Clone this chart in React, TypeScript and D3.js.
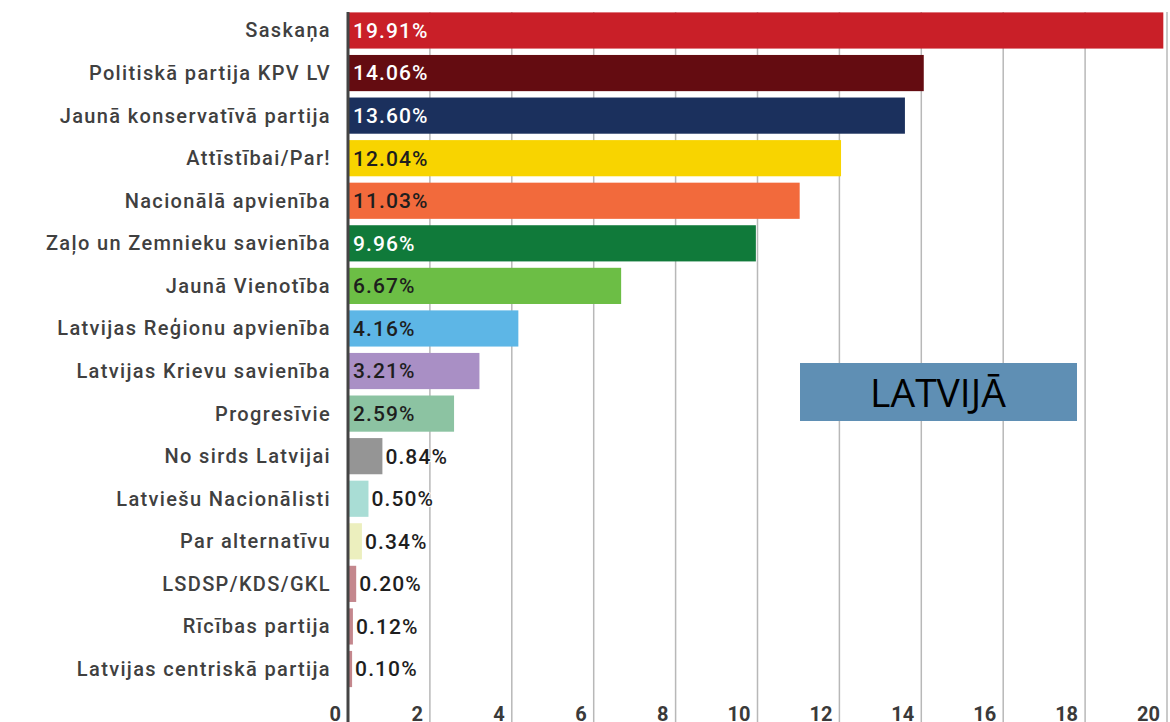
import React from "react";
import * as d3 from "d3";

const parties = [
  "Saskaņa",
  "Politiskā partija KPV LV",
  "Jaunā konservatīvā partija",
  "Attīstībai/Par!",
  "Nacionālā apvienība",
  "Zaļo un Zemnieku savienība",
  "Jaunā Vienotība",
  "Latvijas Reģionu apvienība",
  "Latvijas Krievu savienība",
  "Progresīvie",
  "No sirds Latvijai",
  "Latviešu Nacionālisti",
  "Par alternatīvu",
  "LSDSP/KDS/GKL",
  "Rīcības partija",
  "Latvijas centriskā partija",
];
const shares = [19.91, 14.06, 13.6, 12.04, 11.03, 9.96, 6.67, 4.16, 3.21, 2.59, 0.84, 0.5, 0.34, 0.2, 0.12, 0.1];
const colors = [
  "#c91f28", "#640c11", "#1b305d", "#f8d400", "#f26a3c", "#107a3a", "#6cbe45", "#5db6e6",
  "#a98fc5", "#8cc3a2", "#959595", "#a9ddd5", "#ecefbe", "#c4878d", "#c4878d", "#c4878d",
];
const whiteLabel = [true, true, true, false, false, true, false, false, false, false, false, false, false, false, false, false];
const ticks = [0, 2, 4, 6, 8, 10, 12, 14, 16, 18, 20];
const title = "LATVIJĀ";

export default function App() {
  const W = 1170, H = 722;
  const x = d3.scaleLinear().domain([0, 20]).range([348, 1167]);
  const y = d3.scaleBand<string>().domain(parties).range([9.2, 690.3]).paddingInner(0.15).paddingOuter(0.075);
  const font = "Roboto, 'Noto Sans', sans-serif";
  return (
    <svg width={W} height={H} style={{ position: "absolute", left: 0, top: 0, background: "#fff" }} fontFamily={font}>
      {ticks.slice(1).map((t) => (
        <line key={"g" + t} x1={x(t)} x2={x(t)} y1={12} y2={H} stroke="#b8b8b8" strokeWidth={1.5} />
      ))}
      {parties.map((p, i) => {
        const bw = x(shares[i]) - x(0);
        const label = shares[i].toFixed(2) + "%";
        const inside = bw > 85;
        return (
          <g key={p}>
            <rect x={x(0)} y={y(p)!} width={bw} height={y.bandwidth()} fill={colors[i]} />
            <text
              x={x(0) - 17}
              y={y(p)! + y.bandwidth() / 2}
              dy="0.35em"
              textAnchor="end"
              fontSize={20}
              fontWeight={500}
              letterSpacing={1.35}
              fill="#404040"
            >
              {p}
            </text>
            <text
              x={inside ? x(0) + 5 : x(shares[i]) + 3}
              y={y(p)! + y.bandwidth() / 2}
              dy="0.35em"
              fontSize={21}
              fontWeight={500}
              letterSpacing={1.1}
              fill={inside && whiteLabel[i] ? "#ffffff" : "#1e1e1e"}
              stroke={inside ? "none" : "#ffffff"}
              strokeWidth={inside ? 0 : 2}
              paintOrder="stroke"
            >
              {label}
            </text>
          </g>
        );
      })}
      <line x1={x(0)} x2={x(0)} y1={12} y2={H} stroke="#444" strokeWidth={3} />
      {ticks.map((t) => (
        <text key={"t" + t} x={x(t) - 7} y={721} textAnchor="end" fontSize={20} fontWeight={700} fill="#3a3a3a">
          {t}
        </text>
      ))}
      <rect x={800} y={363} width={277} height={58} fill="#5f8fb4" />
      <text x={938} y={393} dy="0.35em" textAnchor="middle" fontSize={39} fontWeight={500} fontFamily="'Open Sans', 'Noto Sans', sans-serif" fill="#000">
        {title}
      </text>
    </svg>
  );
}
